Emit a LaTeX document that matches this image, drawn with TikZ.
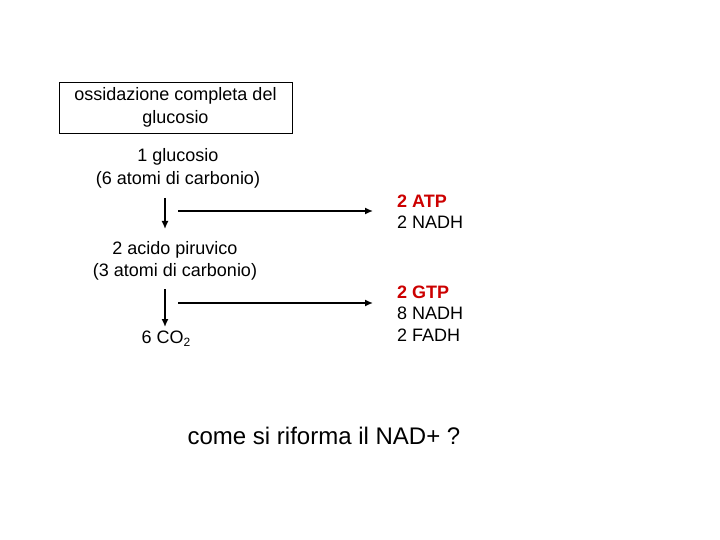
\documentclass[tikz,border=0pt]{standalone}
\usepackage{fontspec}
\setmainfont{Liberation Sans}
\usetikzlibrary{arrows.meta}
\definecolor{myred}{RGB}{204,0,0}
\begin{document}
\begin{tikzpicture}[x=1pt,y=-1pt,
  txt/.style={font=\fontsize{18}{22.5}\selectfont, align=center, inner sep=0pt},
  rtxt/.style={font=\fontsize{18}{21.5}\selectfont, align=left, inner sep=0pt, anchor=west},
  arr/.style={line width=1.5pt, -{Latex[length=8pt,width=7pt]}}]
\useasboundingbox (0,0) rectangle (720,540);
\node[draw, line width=0.8pt, minimum width=233pt, minimum height=51pt, txt] (title) at (175.5,107.5) {ossidazione completa del\\glucosio};
\node[txt] (glu) at (178,168.5) {1 glucosio\\(6 atomi di carbonio)};
\node[txt] (pir) at (175,261) {2 acido piruvico\\(3 atomi di carbonio)};
\node[txt] (co2) at (166,339) {6 CO\raisebox{-0.35ex}{\fontsize{12}{12}\selectfont 2}};
\node[rtxt] (atp) at (397,211.5) {\textcolor{myred}{\textbf{2 ATP}}\\2 NADH};
\node[rtxt] (gtp) at (397,313.5) {\textcolor{myred}{\textbf{2 GTP}}\\8 NADH\\2 FADH};
\node[inner sep=0pt, font=\fontsize{24}{28}\selectfont] (q) at (324,436) {come si riforma il NAD+ ?};
\coordinate (v1a) at (165,198); \coordinate (v1b) at (165,229);
\coordinate (h1a) at (178,211); \coordinate (h1b) at (373,211);
\coordinate (v2a) at (165,289); \coordinate (v2b) at (165,327);
\coordinate (h2a) at (178,303); \coordinate (h2b) at (373,303);
\draw[arr] (v1a) -- (v1b);
\draw[arr] (h1a) -- (h1b);
\draw[arr] (v2a) -- (v2b);
\draw[arr] (h2a) -- (h2b);
\end{tikzpicture}
\end{document}
